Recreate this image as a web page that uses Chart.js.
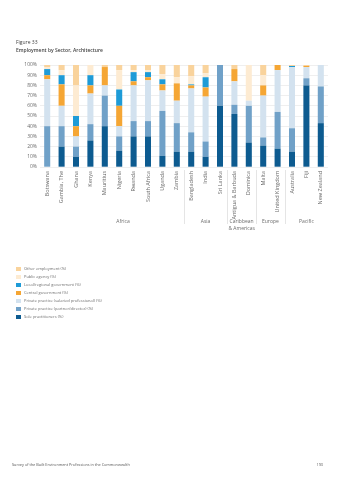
<!DOCTYPE html>
<html>
<head>
<meta charset="utf-8">
<script src="https://cdn.jsdelivr.net/npm/chart.js@4.4.1/dist/chart.umd.min.js"></script>
<style>
  html, body { margin: 0; padding: 0; background: #fff; }
  canvas { display: block; }
</style>
</head>
<body>
<canvas id="sectorChart" width="340" height="480"></canvas>
<script>
// countries, in the order they appear along the axis
const countries = ['Botswana', 'Gambia, The', 'Ghana', 'Kenya', 'Mauritius', 'Nigeria', 'Rwanda',
  'South Africa', 'Uganda', 'Zambia', 'Bangladesh', 'India', 'Sri Lanka', 'Antigua & Barbuda',
  'Dominica', 'Malta', 'United Kingdom', 'Australia', 'Fiji', 'New Zealand'];

// share of architects by sector (%)
const sole     = [0, 20, 10, 26, 40, 16, 30, 30, 11, 15, 15, 10, 60, 52, 24, 21, 18, 15, 80, 43];
const partner  = [40, 20, 10, 16, 30, 14, 15, 15, 44, 28, 19, 15, 40, 9, 36, 8, 36, 23, 7, 36];
const salaried = [46, 20, 10, 30, 10, 10, 35, 40, 20, 22, 43, 44, 0, 23, 5, 41, 41, 60, 11, 21];
const central  = [4, 21, 10, 8, 18, 20, 4, 3, 6, 17, 3, 9, 0, 12, 0, 10, 5, 0, 1, 0];
const local    = [6, 9, 10, 10, 0, 16, 9, 5, 5, 0, 1, 10, 0, 0, 0, 0, 0, 1, 0, 0];
const publicAg = [2, 5, 30, 10, 0, 19, 2, 2, 5, 6, 8, 4, 0, 0, 35, 10, 0, 0, 0, 0];
const other    = [2, 5, 20, 0, 2, 5, 5, 5, 9, 12, 11, 8, 0, 4, 0, 10, 0, 1, 1, 0];

const yTicks = [0, 10, 20, 30, 40, 50, 60, 70, 80, 90, 100];

// regions: name lines, first and last country index
const regionNames = [['Africa'], ['Asia'], ['Caribbean', '& Americas'], ['Europe'], ['Pacific']];
const regionStart = [0, 10, 13, 15, 17];
const regionEnd   = [9, 12, 14, 16, 19];

const FONT = '"Open Sans", "Noto Sans", sans-serif';
const GREY = '#6b6b6b';

function series(label, data, color) {
  return {
    label: label,
    data: data,
    backgroundColor: color,
    borderWidth: 0,
    barPercentage: 0.42,
    categoryPercentage: 1
  };
}

// region labels, separators, legend, heading and footer
const pageText = {
  id: 'pageText',
  afterDraw(chart) {
    const c = chart.ctx;
    const x = chart.scales.x;
    const area = chart.chartArea;
    c.save();

    c.fillStyle = '#444';
    c.textBaseline = 'middle';
    c.textAlign = 'left';
    c.font = '5px ' + FONT;
    c.fillText('Figure 33', 16, 43);
    c.font = '600 5px ' + FONT;
    c.fillText('Employment by Sector, Architecture', 16, 51);

    // separators between regions
    c.strokeStyle = '#d4d4d4';
    c.lineWidth = 0.6;
    for (let r = 1; r < regionStart.length; r++) {
      const i = regionStart[r];
      const sx = Math.round((x.getPixelForValue(i - 1) + x.getPixelForValue(i)) / 2) + 0.5;
      c.beginPath();
      c.moveTo(sx, area.bottom + 3);
      c.lineTo(sx, 224);
      c.stroke();
    }

    c.fillStyle = GREY;
    c.textAlign = 'center';
    c.font = '5px ' + FONT;
    regionNames.forEach((lines, r) => {
      const left = x.getPixelForValue(regionStart[r]) - 7.2;
      const right = x.getPixelForValue(regionEnd[r]) + 7.2;
      let cx = (left + right) / 2;
      if (r === 0) cx += 11;
      lines.forEach((t, k) => c.fillText(t, cx, 222 + k * 7));
    });

    // legend, top item is the top of the stack
    c.textAlign = 'left';
    c.font = '4px ' + FONT;
    const ds = chart.data.datasets.slice().reverse();
    ds.forEach((d, k) => {
      const y = 269 + k * 8;
      c.fillStyle = d.backgroundColor;
      c.fillRect(16, y - 2, 5, 4);
      c.fillStyle = GREY;
      c.fillText(d.label, 24, y);
    });

    c.font = '3.8px ' + FONT;
    c.fillStyle = '#555';
    c.fillText('Survey of the Built Environment Professions in the Commonwealth', 12, 465);
    c.textAlign = 'right';
    c.fillText('193', 323, 465);
    c.restore();
  }
};

const ctx = document.getElementById('sectorChart');
const sectorChart = new Chart(ctx, {
  type: 'bar',
  data: {
    labels: countries,
    datasets: [
      series('Sole practitioners (%)', sole, '#0d5b90'),
      series('Private practice (partner/director) (%)', partner, '#70a1c8'),
      series('Private practice (salaried professional) (%)', salaried, '#d3e2ef'),
      series('Central government (%)', central, '#f5a634'),
      series('Local/regional government (%)', local, '#1e9bd7'),
      series('Public agency (%)', publicAg, '#fdebd2'),
      series('Other employment (%)', other, '#f9d39c')
    ]
  },
  options: {
    responsive: false,
    animation: false,
    devicePixelRatio: 1,
    layout: {
      padding: { top: 65, left: 0, right: 12, bottom: 253 }
    },
    plugins: {
      legend: { display: false },
      title: { display: false },
      tooltip: { enabled: false }
    },
    scales: {
      x: {
        stacked: true,
        grid: { display: false, drawTicks: false },
        border: { display: false },
        ticks: {
          autoSkip: false,
          minRotation: 90,
          maxRotation: 90,
          padding: 4,
          color: GREY,
          font: { family: FONT, size: 5.5 }
        },
        afterFit: function (scale) { scale.height = 60; }
      },
      y: {
        stacked: true,
        min: 0,
        max: 100,
        afterBuildTicks: function (scale) {
          scale.ticks = yTicks.map(v => ({ value: v }));
        },
        grid: { color: '#e4e4e4', lineWidth: 0.6, drawTicks: false },
        border: { display: false },
        ticks: {
          padding: 3,
          color: GREY,
          font: { family: FONT, size: 5 },
          callback: function (value) {
            return value + '%';
          }
        },
        afterFit: function (scale) { scale.width = 40; }
      }
    }
  },
  plugins: [pageText]
});
</script>
</body>
</html>
